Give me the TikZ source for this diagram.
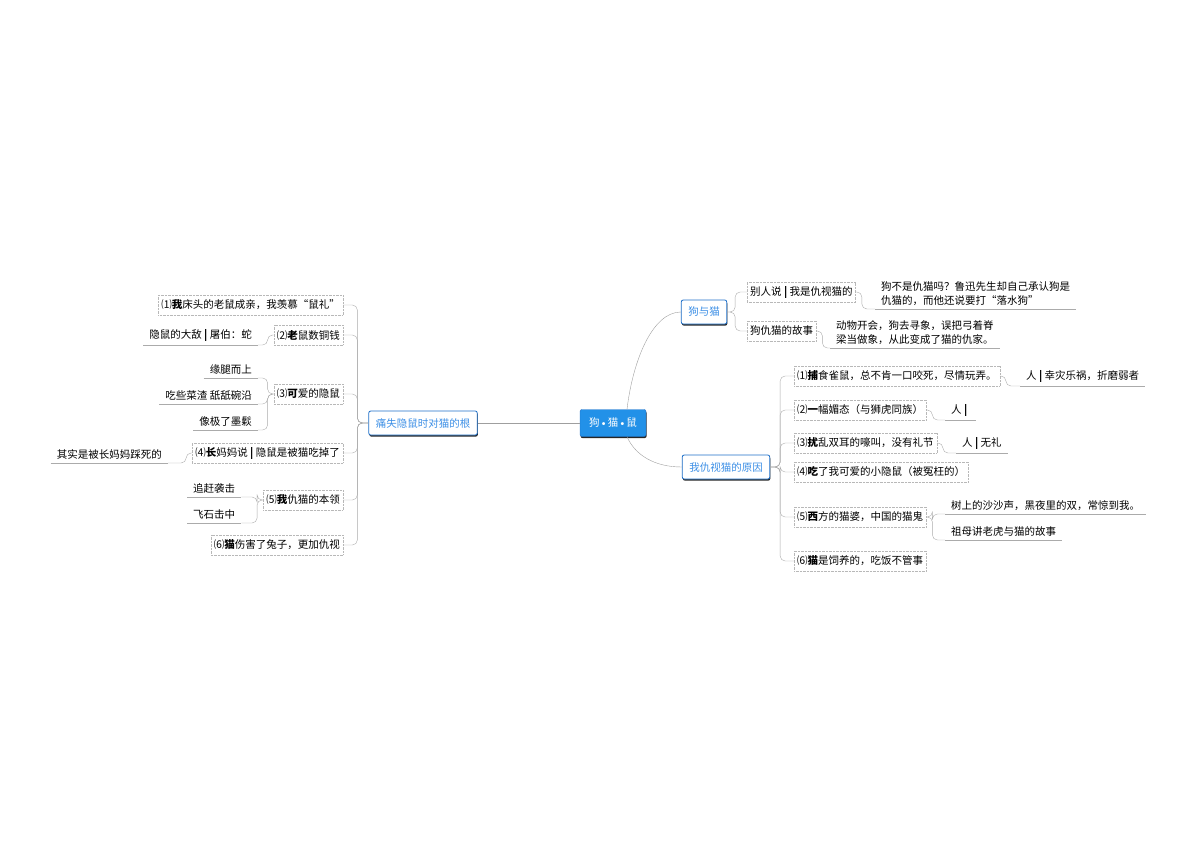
\documentclass[tikz,border=0pt]{standalone}
\usepackage{fontspec}
\newfontfamily\cjk{Noto Sans CJK SC}
\usetikzlibrary{shadows}
\definecolor{hubblue}{HTML}{2291E8}
\definecolor{topicline}{HTML}{1E6FC8}
\definecolor{topictext}{HTML}{3C8FE6}
\definecolor{twig}{HTML}{ABABAB}
\tikzset{
  hub/.style={draw=topicline,fill=hubblue,text=white,rounded corners=2pt,minimum width=66pt,minimum height=27pt,
    drop shadow={shadow xshift=0.6pt,shadow yshift=-1.6pt,fill=black!85,opacity=1}},
  topic/.style={draw=topicline,line width=0.8pt,fill=white,text=topictext,rounded corners=2pt,minimum height=24pt,inner xsep=7pt,
    drop shadow={shadow xshift=0.6pt,shadow yshift=-1.6pt,fill=black!85,opacity=1}},
  sub/.style={draw=twig!85,densely dotted,minimum height=20pt,inner xsep=3pt,inner ysep=2pt},
  leaf/.style={inner xsep=6pt,inner ysep=3pt,align=left},
  link/.style={draw=twig,thin,rounded corners=5pt},
  trunk/.style={draw=gray!75,thin}
}
\newcommand{\sepbar}{\ {\bfseries|}\ }
\newcommand{\dotsep}{{\normalfont\textbullet}}
\begin{document}
\begin{tikzpicture}[x=1pt,y=-1pt,every node/.style={font=\cjk\fontsize{10.5}{14}\selectfont}]
\useasboundingbox (0,0) rectangle (1200,846);
% centre and main topics
\node[hub] (hub) at (613,423) {狗\dotsep 猫\dotsep 鼠};
\node[topic] (lost) at (423,423) {痛失隐鼠时对猫的根};
\node[topic] (dog) at (704,312) {狗与猫};
\node[topic] (why) at (726,467) {我仇视猫的原因};
\draw[trunk] (hub.west) -- (lost.east);
\draw[trunk] ([xshift=14pt]hub.north) .. controls +(6,-50) and +(-28,0) .. (dog.west);
\draw[trunk] ([xshift=14pt]hub.south) .. controls +(8,18) and +(-28,0) .. (why.west);
% left branch
\node[sub,anchor=east] (l1) at (343,305) {⑴\textbf{我}床头的老鼠成亲，我羡慕“鼠礼”};
\node[sub,anchor=east] (l2) at (343,335) {⑵\textbf{老}鼠数铜钱};
\node[sub,anchor=east] (l3) at (343,394) {⑶\textbf{可}爱的隐鼠};
\node[sub,anchor=east] (l4) at (343,453) {⑷\textbf{长}妈妈说\sepbar 隐鼠是被猫吃掉了};
\node[sub,anchor=east] (l5) at (343,500) {⑸\textbf{我}仇猫的本领};
\node[sub,anchor=east] (l6) at (343,545) {⑹\textbf{猫}伤害了兔子，更加仇视};
\foreach \n in {l1,l2,l3,l4,l5,l6}
  \draw[link] (lost.west) -- ++(-11,0) |- (\n.east);
\node[leaf,anchor=south east] (la) at (258,345) {隐鼠的大敌\sepbar 屠伯：蛇};
\node[leaf,anchor=south east] (lb1) at (258,378) {缘腿而上};
\node[leaf,anchor=south east] (lb2) at (258,404) {吃些菜渣 舐舐碗沿};
\node[leaf,anchor=south east] (lb3) at (258,430) {像极了墨鬏};
\node[leaf,anchor=south east] (lc) at (168,463) {其实是被长妈妈踩死的};
\node[leaf,anchor=south west] (ld1) at (187,497) {追赶袭击};
\node[leaf,anchor=south west] (ld2) at (187,523) {飞石击中};
\draw[link] (l2.west) -- ++(-6,0) |- (la.south east);
\foreach \n in {lb1,lb2,lb3}
  \draw[link] (l3.west) -- ++(-6,0) |- (\n.south east);
\draw[link] (l4.west) -- ++(-6,0) |- (lc.south east);
\foreach \n in {ld1,ld2}
  \draw[link] (l5.west) -- ++(-6,0) |- (\n.south east);
% right branch: dog and cat
\node[sub,anchor=west] (d1) at (747,292) {别人说\sepbar 我是仇视猫的};
\node[sub,anchor=west] (d2) at (747,331) {狗仇猫的故事};
\foreach \n in {d1,d2}
  \draw[link] (dog.east) -- ++(8,0) |- (\n.west);
\node[leaf,anchor=south west] (da) at (875,309) {狗不是仇猫吗？鲁迅先生却自己承认狗是\\仇猫的，而他还说要打“落水狗”};
\node[leaf,anchor=south west] (db) at (830,348) {动物开会，狗去寻象，误把弓着脊\\梁当做象，从此变成了猫的仇家。};
\draw[link] (d1.east) -- ++(6,0) |- (da.south west);
\draw[link] (d2.east) -- ++(6,0) |- (db.south west);
% right branch: reasons
\node[sub,anchor=west] (r1) at (794,376) {⑴\textbf{捕}食雀鼠，总不肯一口咬死，尽情玩弄。};
\node[sub,anchor=west] (r2) at (794,410) {⑵\textbf{一}幅媚态（与狮虎同族）};
\node[sub,anchor=west] (r3) at (794,443) {⑶\textbf{扰}乱双耳的嚎叫，没有礼节};
\node[sub,anchor=west] (r4) at (794,472) {⑷\textbf{吃}了我可爱的小隐鼠（被冤枉的）};
\node[sub,anchor=west] (r5) at (794,517) {⑸\textbf{西}方的猫婆，中国的猫鬼};
\node[sub,anchor=west] (r6) at (794,561) {⑹\textbf{猫}是饲养的，吃饭不管事};
\foreach \n in {r1,r2,r3,r4,r5,r6}
  \draw[link] (why.east) -- ++(10,0) |- (\n.west);
\node[leaf,anchor=south west] (ra) at (1020,386) {人\sepbar 幸灾乐祸，折磨弱者};
\node[leaf,anchor=south west] (rb) at (945,420) {人\sepbar};
\node[leaf,anchor=south west] (rc) at (956,453) {人\sepbar 无礼};
\node[leaf,anchor=south west] (re1) at (945,514) {树上的沙沙声，黑夜里的双，常惊到我。};
\node[leaf,anchor=south west] (re2) at (945,540) {祖母讲老虎与猫的故事};
\draw[link] (r1.east) -- ++(6,0) |- (ra.south west);
\draw[link] (r2.east) -- ++(6,0) |- (rb.south west);
\draw[link] (r3.east) -- ++(6,0) |- (rc.south west);
\foreach \n in {re1,re2}
  \draw[link] (r5.east) -- ++(6,0) |- (\n.south west);
% underlines of the leaves
\foreach \n in {la,lb1,lb2,lb3,lc,ld1,ld2,da,db,ra,rb,rc,re1,re2}
  \draw[link] (\n.south west) -- (\n.south east);
\end{tikzpicture}
\end{document}
